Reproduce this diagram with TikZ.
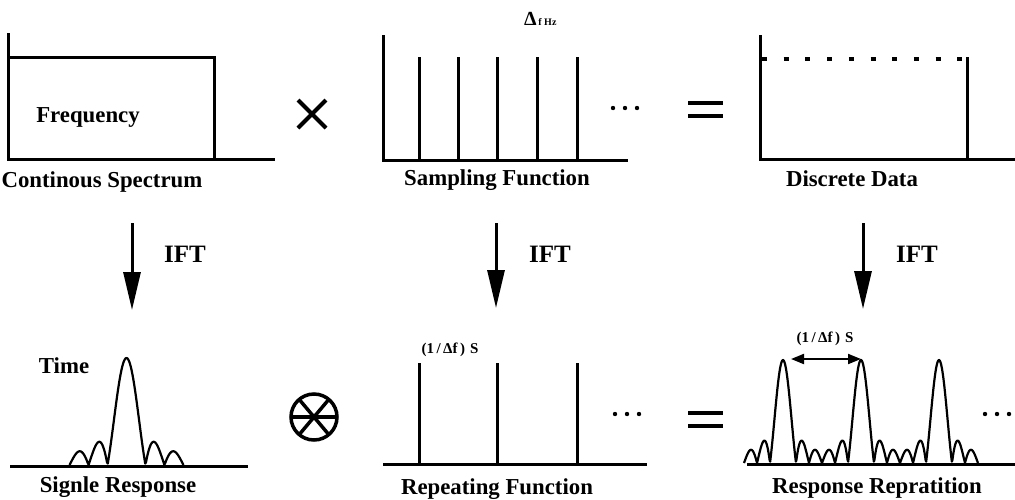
\documentclass[tikz,border=0pt]{standalone}
\usepackage{fontspec}
\setmainfont{Liberation Serif}
\usetikzlibrary{arrows.meta}
\tikzset{
  axis/.style={line width=3pt},
  spike/.style={line width=3pt},
  curve/.style={line width=2.2pt, line join=round},
  opsym/.style={line width=4pt},
  eqsym/.style={line width=4.5pt},
  lbl/.style={font=\fontsize{22.8}{24}\selectfont\bfseries, anchor=base, inner sep=0pt},
  ifttext/.style={font=\fontsize{25}{26}\selectfont\bfseries, anchor=base, inner sep=0pt},
  small/.style={font=\fontsize{15}{16}\selectfont\bfseries, anchor=base, inner sep=0pt},
  ift/.style={line width=3pt, -{Triangle[length=38pt,width=17pt]}},
  dimarrow/.style={line width=2pt, {Triangle[length=13pt,width=10pt]}-{Triangle[length=13pt,width=10pt]}},
  dotmark/.style={fill=black},
}
\begin{document}
\begin{tikzpicture}[x=1pt,y=-1pt, declare function={sn(\t)=abs(sin(180*\t)/(pi*\t));}]
\useasboundingbox (0,0) rectangle (1015,499);
% ---- panel 1: continuous spectrum
\draw[axis] (8,33) -- (8,159) -- (275,159);
\draw[axis] (8,57) -- (214,57) -- (214,159);
\node[lbl] (freq) at (88,122) {Frequency};
\node[lbl] (cont) at (102,187) {Continous Spectrum};
% ---- times
\draw[opsym] (298,100) -- (326,128) (298,128) -- (326,100);
% ---- panel 2: sampling function
\draw[axis] (383,35) -- (383,160) -- (628,160);
\foreach \x in {419,458,497,537,577} \draw[spike] (\x,57) -- (\x,160);
\foreach \x in {613,625,637} \fill[dotmark] (\x,108) circle (2.2);
\node[anchor=base west, inner sep=0pt, font=\bfseries] (df) at (524,25) {\fontsize{20}{20}\selectfont Δ\fontsize{10}{10}\selectfont\,f Hz};
\node[lbl] (samp) at (497,185) {Sampling Function};
% ---- equals top
\draw[eqsym] (688,103) -- (723,103) (688,116) -- (723,116);
% ---- panel 3: discrete data
\draw[axis] (760,35) -- (760,159) -- (1015,159);
\draw[axis] (967,57) -- (967,159);
\draw[line width=3.5pt, dash pattern=on 5pt off 16.7pt] (762,59) -- (962,59);
\node[lbl] (disc) at (852,186) {Discrete Data};
% ---- IFT arrows
\coordinate (a1s) at (132,223); \coordinate (a1e) at (132,310);
\coordinate (a2s) at (496,223); \coordinate (a2e) at (496,308);
\coordinate (a3s) at (863,223); \coordinate (a3e) at (863,309);
\draw[ift] (a1s) -- (a1e);
\draw[ift] (a2s) -- (a2e);
\draw[ift] (a3s) -- (a3e);
\node[ifttext] (ift1) at (185,262) {IFT};
\node[ifttext] (ift2) at (550,262) {IFT};
\node[ifttext] (ift3) at (917,262) {IFT};
% ---- panel 4: single response
\draw[axis] (10,466) -- (248,466);
\draw[curve] plot[domain=-3:3, samples=150] ({126.5+19*\x},{465-107*sn(\x)});
\node[lbl] (time) at (64,373) {Time};
\node[lbl] (sing) at (118,492) {Signle Response};
% ---- convolution symbol
\draw[opsym, line width=3.5pt] (314,417) circle (23);
\draw[opsym, line width=3.5pt] (291,417) -- (337,417);
\draw[opsym, line width=3.5pt] (299.2,399.4) -- (328.8,434.6) (328.8,399.4) -- (299.2,434.6);
% ---- panel 5: repeating function
\draw[axis] (383,464) -- (647,464);
\foreach \x in {419,497,577} \draw[spike] (\x,363) -- (\x,464);
\foreach \x in {615,627,639} \fill[dotmark] (\x,414) circle (2.2);
\node[small] (per1) at (450,353) {(1\,/\,Δf\,)\,\,S};
\node[lbl] (rep) at (497,494) {Repeating Function};
% ---- equals bottom
\draw[eqsym] (688,413) -- (723,413) (688,426) -- (723,426);
% ---- panel 6: response repetition
\draw[axis] (747,464) -- (1015,464);
\foreach \c in {783,861,939}
  \draw[curve] plot[domain=-3:3, samples=150] ({\c+13*\x},{463-103*sn(\x)});
\coordinate (dl) at (791,359); \coordinate (dr) at (861,359);
\draw[dimarrow] (dl) -- (dr);
\node[small] (per2) at (825,342) {(1\,/\,Δf\,)\,\,S};
\foreach \x in {985,997,1009} \fill[dotmark] (\x,414) circle (2.2);
\node[lbl] (resp) at (877,493) {Response Repratition};
\end{tikzpicture}
\end{document}
